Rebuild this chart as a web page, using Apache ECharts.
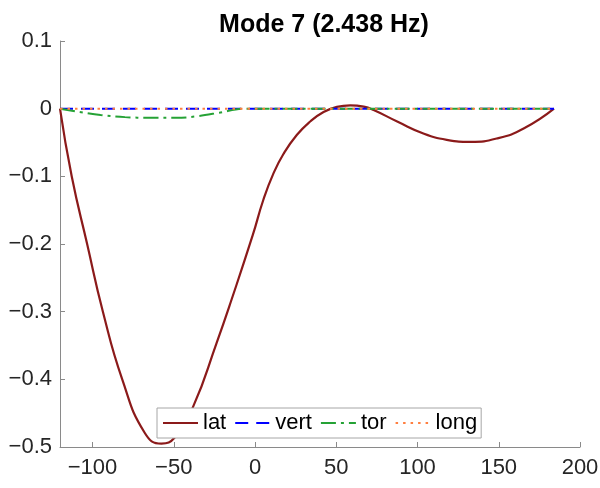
<!DOCTYPE html>
<html>
<head>
<meta charset="utf-8">
<script src="https://cdn.jsdelivr.net/npm/echarts@6/dist/echarts.min.js"></script>
<style>
  html, body { margin: 0; padding: 0; background: #fff; }
  #chart { width: 600px; height: 488px; }
</style>
</head>
<body>
<div id="chart"></div>
<script>
// ---- data ----
const titleText = 'Mode 7 (2.438 Hz)';
const seriesNames = ['lat', 'vert', 'tor', 'long'];

const latX = [-120, -112.8, -103.3, -93.6, -81.7, -67.9, -57.6, -49.4, -38, -23.6, -14.4, -1.4, 5.1, 11.3, 17.5, 25.7, 34, 42.2, 50.4, 58.6, 66.9, 73, 87.5, 104, 118, 132.7, 149, 165.6, 184];
const latY = [0, -0.1, -0.2, -0.3, -0.4, -0.479, -0.495, -0.486, -0.44, -0.346, -0.282, -0.187, -0.135, -0.096, -0.067, -0.039, -0.019, -0.005, 0.0027, 0.005, 0.003, -0.002, -0.019, -0.037, -0.046, -0.049, -0.044, -0.029, 0];

const vertX = [-120, 184];
const vertY = [0, 0];

const torX = [-120, -108, -95, -80, -65, -48, -35, -22, -7, 184];
const torY = [0, -0.005, -0.0095, -0.0125, -0.0135, -0.0135, -0.011, -0.006, 0, 0];

const longX = [-120, 184];
const longY = [0, 0];

const xTicks = [-100, -50, 0, 50, 100, 150, 200];
const xTickLabels = ['\u2212100', '\u221250', '0', '50', '100', '150', '200'];
const yTicks = [-0.5, -0.4, -0.3, -0.2, -0.1, 0, 0.1];
const yTickLabels = ['\u22120.5', '\u22120.4', '\u22120.3', '\u22120.2', '\u22120.1', '0', '0.1'];

// ---- helpers ----
const pairs = (xs, ys) => xs.map((x, i) => [x, ys[i]]);
const lookup = (ticks, labels) => v => {
  const i = ticks.findIndex(t => Math.abs(t - v) < 1e-9);
  return i >= 0 ? labels[i] : '';
};

const FONT = 'Liberation Sans';
const AXIS_COLOR = '#8a8a8a';
const LABEL_COLOR = '#262626';

const chart = echarts.init(document.getElementById('chart'), null, { renderer: 'canvas' });

chart.setOption({
  animation: false,
  backgroundColor: '#ffffff',
  title: {
    text: titleText,
    left: 319,
    textAlign: 'center',
    top: 8,
    textStyle: { fontFamily: FONT, fontSize: 25, fontWeight: 'bold', color: '#000' }
  },
  grid: { left: 60, right: 20, top: 41, bottom: 41, containLabel: false, outerBoundsMode: 'none' },
  xAxis: {
    type: 'value',
    min: -120,
    max: 200,
    axisLine: { show: true, onZero: false, lineStyle: { color: AXIS_COLOR, width: 1 } },
    axisTick: { show: true, inside: true, length: 5, customValues: xTicks, lineStyle: { color: AXIS_COLOR } },
    axisLabel: {
      customValues: xTicks,
      formatter: lookup(xTicks, xTickLabels),
      fontFamily: FONT, fontSize: 22, color: LABEL_COLOR, margin: 10
    },
    splitLine: { show: false }
  },
  yAxis: {
    type: 'value',
    min: -0.5,
    max: 0.1,
    axisLine: { show: true, onZero: false, lineStyle: { color: AXIS_COLOR, width: 1 } },
    axisTick: { show: true, inside: true, length: 5, customValues: yTicks, lineStyle: { color: AXIS_COLOR } },
    axisLabel: {
      customValues: yTicks,
      formatter: lookup(yTicks, yTickLabels),
      fontFamily: FONT, fontSize: 22, color: LABEL_COLOR, margin: 8
    },
    splitLine: { show: false }
  },
  legend: {
    data: seriesNames,
    orient: 'horizontal',
    left: 157,
    top: 408,
    itemWidth: 35,
    itemHeight: 14,
    itemGap: 8,
    padding: [4, 4, 4, 5],
    borderColor: '#a6a6a6',
    borderWidth: 1,
    backgroundColor: '#ffffff',
    itemStyle: { opacity: 0 },
    textStyle: { fontFamily: FONT, fontSize: 22, color: '#000' }
  },
  series: [
    {
      name: seriesNames[0], type: 'line', data: pairs(latX, latY),
      symbol: 'none', smooth: 0.5,
      lineStyle: { color: '#8b1a1a', width: 2.2, type: 'solid' },
      itemStyle: { color: '#8b1a1a' }
    },
    {
      name: seriesNames[1], type: 'line', data: pairs(vertX, vertY),
      symbol: 'none',
      lineStyle: { color: '#0000ff', width: 2, type: [13, 8] },
      itemStyle: { color: '#0000ff' }
    },
    {
      name: seriesNames[2], type: 'line', data: pairs(torX, torY),
      symbol: 'none', smooth: 0.35,
      lineStyle: { color: '#25a235', width: 2, type: [15, 5, 3, 5] },
      itemStyle: { color: '#25a235' }
    },
    {
      name: seriesNames[3], type: 'line', data: pairs(longX, longY),
      symbol: 'none',
      lineStyle: { color: '#ff7f40', width: 2, type: [2.5, 5] },
      itemStyle: { color: '#ff7f40' }
    }
  ]
});
</script>
</body>
</html>
